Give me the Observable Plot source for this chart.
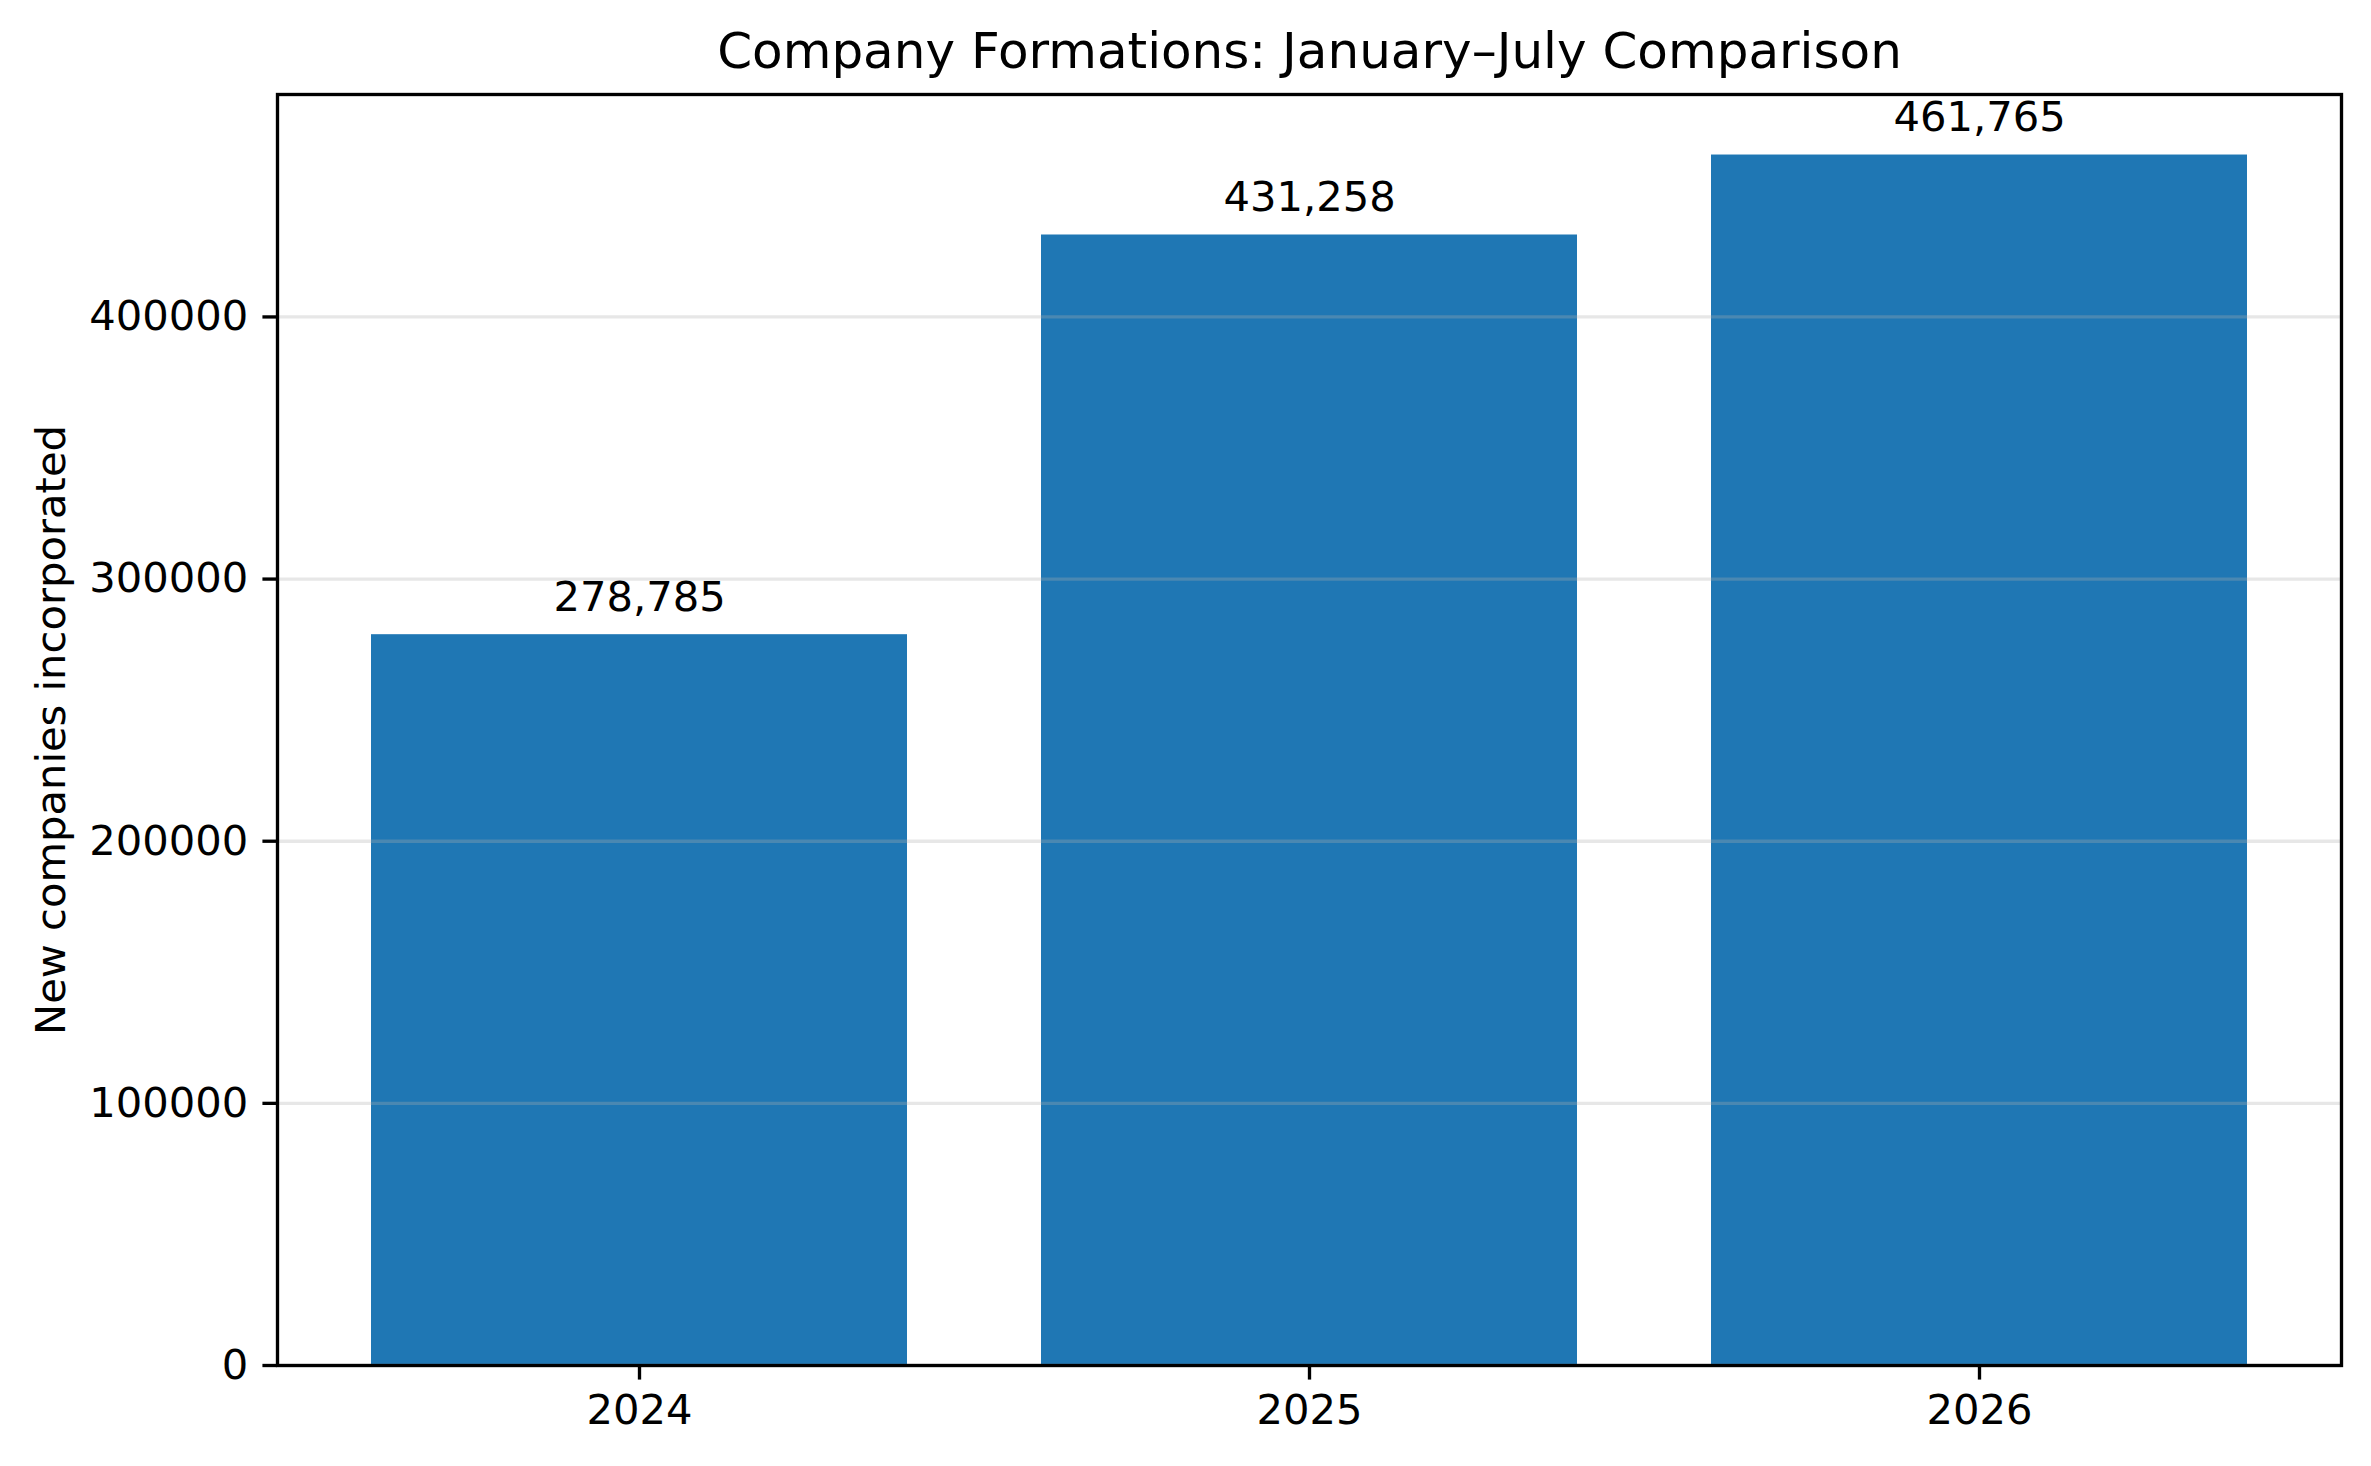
<!DOCTYPE html>
<html>
<head>
<meta charset="utf-8">
<script src="https://cdn.jsdelivr.net/npm/d3@7"></script>
<script src="https://cdn.jsdelivr.net/npm/@observablehq/plot@0.6"></script>
<style>
  html, body { margin: 0; padding: 0; background: #fff; }
  #chart svg { display: block; max-width: none; }
</style>
</head>
<body>
<div id="chart"></div>
<script>
const years = ["2024", "2025", "2026"];
const formations = [278785, 431258, 461765];
const yTicks = [0, 100000, 200000, 300000, 400000];
const titleText = ["Company Formations: January–July Comparison"];
const yLabelText = ["New companies incorporated"];

const data = years.map((year, i) => ({year, value: formations[i]}));
const yMax = d3.max(formations) * 1.05;

const pt = 300 / 72;
const font = "DejaVu Sans";

const chart = Plot.plot({
  width: 2371,
  height: 1466,
  marginLeft: 277,
  marginRight: 30,
  marginTop: 94,
  marginBottom: 101,
  style: {fontFamily: font, fontSize: 10 * pt + "px", background: "#fff", color: "#000", overflow: "visible"},
  x: {domain: years, paddingInner: 0.2, paddingOuter: 0.14, label: null},
  y: {domain: [0, yMax], label: null},
  marks: [
    Plot.barY(data, {x: "year", y: "value", fill: "#1f77b4"}),
    Plot.gridY(yTicks, {stroke: "#b0b0b0", strokeOpacity: 0.3, strokeWidth: 0.8 * pt}),
    Plot.text(data, {x: "year", y: "value", text: d => d3.format(",")(d.value), lineAnchor: "bottom", dy: -24, fontSize: 10 * pt, fill: "#000"}),
    Plot.frame({stroke: "#000", strokeWidth: 0.8 * pt}),
    Plot.axisY(yTicks, {tickSize: 3.5 * pt, tickPadding: 3.5 * pt, strokeWidth: 0.8 * pt, tickFormat: d3.format("d"), fontSize: 10 * pt, label: null, fill: "#000"}),
    Plot.axisX({tickSize: 3.5 * pt, tickPadding: 3.5 * pt, strokeWidth: 0.8 * pt, fontSize: 10 * pt, label: null, fill: "#000"}),
    Plot.text(titleText, {frameAnchor: "top", textAnchor: "middle", lineAnchor: "bottom", dy: -27, fontSize: 12 * pt, fill: "#000"}),
    Plot.text(yLabelText, {frameAnchor: "left", textAnchor: "middle", rotate: -90, lineAnchor: "middle", dx: -226, fontSize: 10 * pt, fill: "#000"})
  ]
});

document.getElementById("chart").appendChild(chart);
</script>
</body>
</html>
